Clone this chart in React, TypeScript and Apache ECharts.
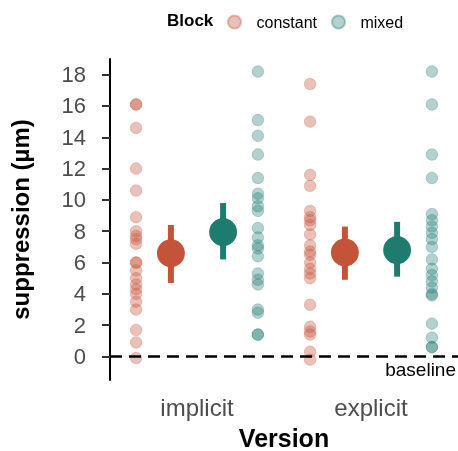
import React, { useEffect, useRef } from "react";
import * as echarts from "echarts";

const versions = ["implicit", "explicit"];
const blocks = ["constant", "mixed"];
const yTicks = [0, 2, 4, 6, 8, 10, 12, 14, 16, 18];

// raw observations
const implicitConstant = [16.1, 16.1, 14.6, 12.0, 10.6, 8.9, 8.0, 7.7, 7.5, 7.2, 6.0, 6.0, 5.5, 5.0, 4.6, 4.3, 4.0, 3.5, 3.0, 1.7, 0.9, -0.1];
const implicitMixed = [18.2, 15.1, 14.1, 12.9, 11.4, 10.4, 10.1, 9.6, 9.3, 8.2, 7.6, 7.1, 6.9, 6.4, 5.3, 4.9, 4.6, 3.0, 2.8, 1.4, 1.4];
const explicitConstant = [17.4, 15.0, 11.6, 10.9, 9.3, 8.9, 8.7, 8.4, 7.8, 7.1, 6.7, 6.5, 6.0, 5.6, 5.3, 5.0, 3.3, 1.9, 1.6, 1.4, 0.3, -0.2];
const explicitMixed = [18.2, 16.1, 12.9, 11.4, 9.1, 8.7, 8.3, 7.9, 7.5, 7.0, 6.2, 5.6, 5.2, 4.8, 4.4, 4.0, 3.9, 2.1, 1.2, 0.6, 0.6];

// summaries per version (implicit, explicit)
const meanConstant = [6.6, 6.65];
const lowConstant = [4.7, 4.9];
const highConstant = [8.4, 8.3];
const meanMixed = [7.95, 6.8];
const lowMixed = [6.2, 5.1];
const highMixed = [9.8, 8.6];

const baselineValue = 0;

const RED = "#c4533a";
const TEAL = "#1e7b70";
const FONT = "'Liberation Sans', Arial, sans-serif";

const rawOffset = 0.35;
const sumOffset = 0.15;

function rawData(valsByVersion: number[][], offset: number) {
  const out: number[][] = [];
  valsByVersion.forEach((vals, i) => {
    vals.forEach((v) => out.push([i + 1 + offset, v]));
  });
  return out;
}

function errorBarSeries(name: string, means: number[], lows: number[], highs: number[], offset: number, color: string) {
  return {
    name,
    type: "custom",
    z: 3,
    data: means.map((_, i) => [i + 1 + offset, lows[i], highs[i]]),
    encode: { x: 0, y: [1, 2] },
    renderItem: (params: any, api: any) => {
      const p1 = api.coord([api.value(0), api.value(1)]);
      const p2 = api.coord([api.value(0), api.value(2)]);
      return {
        type: "line",
        shape: { x1: p1[0], y1: p1[1], x2: p2[0], y2: p2[1] },
        style: { stroke: color, lineWidth: 6 },
      };
    },
  };
}

export default function App() {
  const ref = useRef<HTMLDivElement>(null);
  useEffect(() => {
    if (!ref.current) return;
    const chart = echarts.init(ref.current, undefined, { renderer: "svg" });
    chart.setOption({
      animation: false,
      textStyle: { fontFamily: FONT },
      grid: { left: 110, right: 0, top: 59, bottom: 71, containLabel: false, outerBoundsMode: "none" },
      legend: {
        data: blocks,
        left: 222,
        top: 9,
        icon: "circle",
        itemWidth: 34,
        itemHeight: 13,
        itemGap: 14,
        textStyle: { fontSize: 16, color: "#000", fontFamily: FONT },
      },
      graphic: [
        {
          type: "text",
          left: 167,
          top: 12,
          style: { text: "Block", font: `bold 17px ${FONT}`, fill: "#000" },
        },
      ],
      xAxis: {
        type: "value",
        min: 0.5,
        max: 2.5,
        axisLine: { show: false },
        axisTick: { show: false },
        splitLine: { show: false },
        axisLabel: {
          customValues: [1, 2],
          formatter: (v: number) => versions[Math.round(v) - 1] ?? "",
          fontSize: 24,
          color: "#4d4d4d",
          margin: 15,
        },
        name: "Version",
        nameLocation: "middle",
        nameGap: 45,
        nameTextStyle: { fontSize: 25, fontWeight: "bold", color: "#000" },
      },
      yAxis: {
        type: "value",
        min: -1.5,
        max: 19,
        axisLine: { show: true, lineStyle: { color: "#000", width: 2 } },
        axisTick: { show: true, customValues: yTicks, length: 8, lineStyle: { color: "#333", width: 2 } },
        splitLine: { show: false },
        axisLabel: {
          customValues: yTicks,
          fontSize: 22,
          color: "#4d4d4d",
          margin: 24,
        },
        name: "suppression (µm)",
        nameLocation: "middle",
        nameGap: 78,
        nameTextStyle: { fontSize: 24, fontWeight: "bold", color: "#000" },
      },
      series: [
        {
          name: "constant",
          type: "scatter",
          symbolSize: 11.5,
          z: 2,
          itemStyle: { color: "rgba(196,83,58,0.45)", borderColor: "rgba(196,83,58,0.45)", borderWidth: 0.8 },
          data: rawData([implicitConstant, explicitConstant], -rawOffset),
          markLine: {
            silent: true,
            symbol: "none",
            data: [{ yAxis: baselineValue }],
            lineStyle: { color: "#000", width: 2.5, type: [12, 7] },
            label: {
              show: true,
              position: "insideEndBottom",
              formatter: "baseline",
              color: "#000",
              fontSize: 19,
              distance: [2, 3],
            },
          },
        },
        {
          name: "mixed",
          type: "scatter",
          symbolSize: 11.5,
          z: 2,
          itemStyle: { color: "rgba(30,123,112,0.42)", borderColor: "rgba(30,123,112,0.45)", borderWidth: 0.8 },
          data: rawData([implicitMixed, explicitMixed], rawOffset),
        },
        errorBarSeries("constant bar", meanConstant, lowConstant, highConstant, -sumOffset, RED),
        errorBarSeries("mixed bar", meanMixed, lowMixed, highMixed, sumOffset, TEAL),
        {
          name: "constant mean",
          type: "scatter",
          symbolSize: 28,
          z: 4,
          itemStyle: { color: RED, opacity: 1 },
          data: meanConstant.map((m, i) => [i + 1 - sumOffset, m]),
        },
        {
          name: "mixed mean",
          type: "scatter",
          symbolSize: 28,
          z: 4,
          itemStyle: { color: TEAL, opacity: 1 },
          data: meanMixed.map((m, i) => [i + 1 + sumOffset, m]),
        },
      ],
    });
    return () => chart.dispose();
  }, []);
  return <div ref={ref} style={{ position: "fixed", left: 0, top: 0, width: 458, height: 451 }} />;
}
